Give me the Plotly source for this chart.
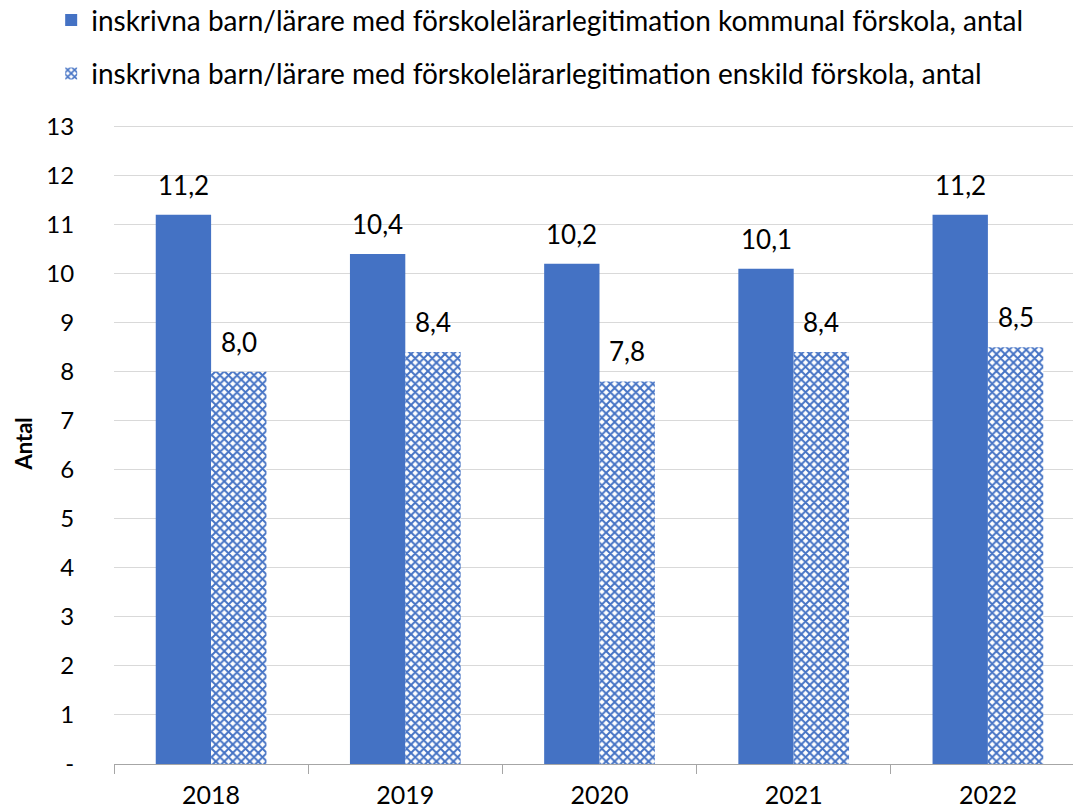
import plotly.graph_objects as go

years = ["2018", "2019", "2020", "2021", "2022"]
kommunal = [11.2, 10.4, 10.2, 10.1, 11.2]
enskild = [8.0, 8.4, 7.8, 8.4, 8.5]
name_k = "inskrivna barn/lärare med förskolelärarlegitimation kommunal förskola, antal"
name_e = "inskrivna barn/lärare med förskolelärarlegitimation enskild förskola, antal"
y_ticks = list(range(0, 14))
y_ticktext = ["-"] + [str(v) for v in y_ticks[1:]]

BLUE = "#4472C4"
FONT = "Lato"
W, H = 1081, 811
ML, MR, MT, MB = 106, 4, 117, 55
BARGAP = 0.43

xpos = list(range(len(years)))

fig = go.Figure()
fig.add_trace(go.Bar(x=xpos, y=kommunal, name=name_k, marker=dict(color=BLUE, line=dict(width=0)),
                     legendgroup="a"))
fig.add_trace(go.Bar(x=xpos, y=enskild, name=name_e,
                     marker=dict(color="white", line=dict(width=0),
                                 pattern=dict(shape="x", fgcolor=BLUE, bgcolor="white", size=6,
                                              solidity=0.55, fgopacity=1)),
                     legendgroup="b"))

half = (1 - BARGAP) / 4
ann = []
for i in xpos:
    for vals, off in ((kommunal, -half), (enskild, half)):
        ann.append(dict(x=i + off, y=vals[i], text=f"{vals[i]:.1f}".replace(".", ","), showarrow=False,
                        xref="x", yref="y", yshift=12, yanchor="bottom",
                        font=dict(family=FONT, size=26, color="#000000")))
ann.append(dict(text="<b>Antal</b>", xref="paper", yref="paper", x=0, y=0.5, xshift=-91,
                xanchor="center", yanchor="middle", textangle=-90, showarrow=False,
                font=dict(family=FONT, size=22, color="#000000")))

fig.update_layout(
    width=W, height=H,
    margin=dict(l=ML, r=MR, t=MT, b=MB, autoexpand=False),
    paper_bgcolor="white", plot_bgcolor="white",
    barmode="group", bargap=BARGAP, bargroupgap=0,
    font=dict(family=FONT, size=24, color="#000000"),
    legend=dict(xref="paper", yref="paper", x=-0.0647, y=1.203, xanchor="left", yanchor="top",
                orientation="v", traceorder="grouped", tracegroupgap=14,
                font=dict(family=FONT, size=28, color="#000000"), itemwidth=30),
    annotations=ann,
    showlegend=True,
)
fig.update_xaxes(range=[-0.5, len(years) - 0.5], tickvals=xpos, ticktext=years,
                 ticks="outside", ticklen=9, tickcolor="rgba(0,0,0,0)",
                 minor=dict(tick0=-0.5, dtick=1, ticks="outside", ticklen=9, tickcolor="#A6A6A6", showgrid=False),
                 showline=True, linecolor="#A6A6A6", linewidth=1, showgrid=False, zeroline=False,
                 tickfont=dict(family=FONT, size=25))
fig.update_yaxes(range=[0, 13.03], tickvals=y_ticks, ticktext=y_ticktext, showgrid=True, gridcolor="#D9D9D9",
                 gridwidth=1, zeroline=False, showline=False,
                 ticks="outside", ticklen=34, tickcolor="rgba(0,0,0,0)",
                 tickfont=dict(family=FONT, size=24))

fig.write_html("out.html")
